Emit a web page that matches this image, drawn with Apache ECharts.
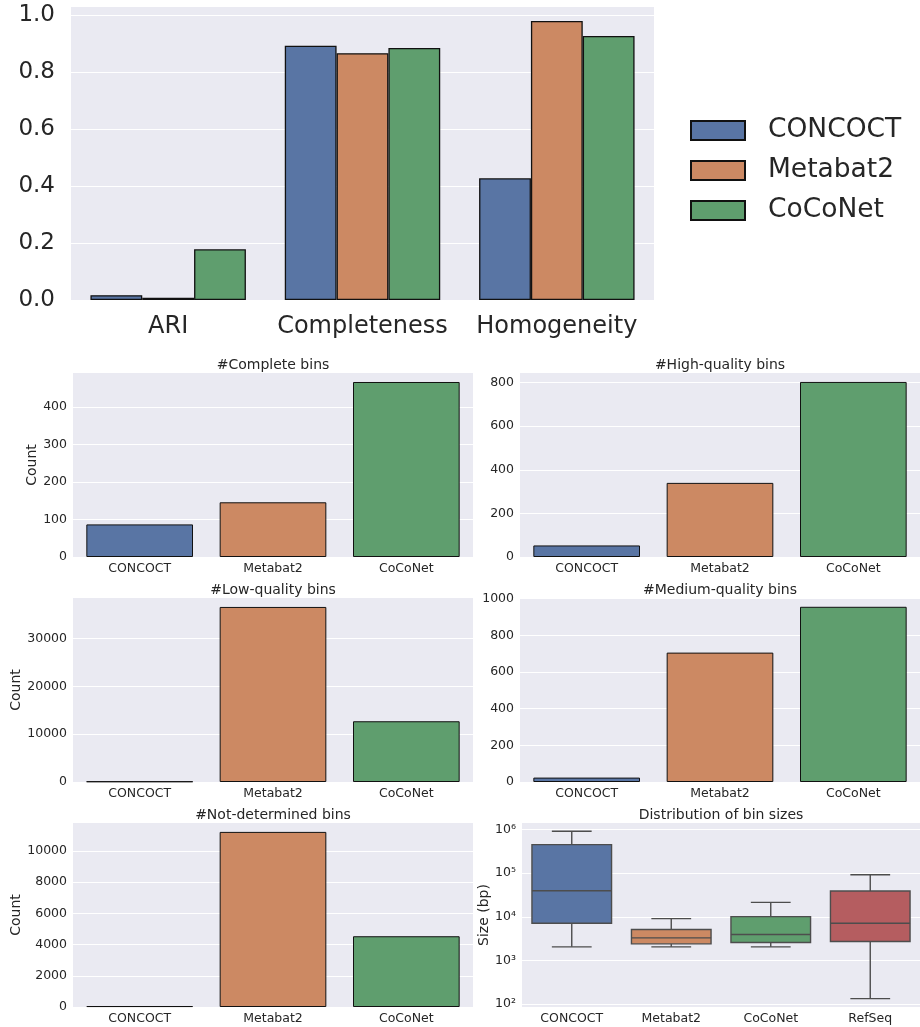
<!DOCTYPE html>
<html>
<head>
<meta charset="utf-8">
<script src="https://cdn.jsdelivr.net/npm/echarts@6/dist/echarts.min.js"></script>
<style>html,body{margin:0;padding:0;background:#fff;}#c{width:920px;height:1027px;}</style>
</head>
<body>
<div id="c"></div>
<script>
// ---- data ----
const metrics = ['ARI', 'Completeness', 'Homogeneity'];
const methods = ['CONCOCT', 'Metabat2', 'CoCoNet'];
const concoctScores = [0.017, 0.892, 0.427];
const metabat2Scores = [0.008, 0.866, 0.979];
const coconetScores = [0.178, 0.884, 0.926];

const completeBins = [87, 146, 467];
const highQualityBins = [53, 340, 803];
const lowQualityBins = [120, 36600, 12700];
const mediumQualityBins = [24, 706, 956];
const notDeterminedBins = [60, 11210, 4530];

const sizeCategories = ['CONCOCT', 'Metabat2', 'CoCoNet', 'RefSeq'];
const sizeWhiskerLow = [2040, 2040, 2040, 132];
const sizeQ1 = [7100, 2390, 2570, 2700];
const sizeMedian = [39600, 3280, 3910, 7100];
const sizeQ3 = [454000, 5090, 10100, 38900];
const sizeWhiskerHigh = [916000, 9080, 21400, 92000];

// ---- style ----
const palette = ['#5975a4', '#cc8963', '#5f9e6e', '#b55d60'];
const txt = '#262626';
const bg = '#eaeaf2';
const FONT = 'DejaVu Sans';

const chart = echarts.init(document.getElementById('c'), null, {renderer: 'canvas'});

const grids = [
  {left: 71, top: 7, width: 583, height: 293},
  {left: 73, top: 373, width: 400, height: 184},
  {left: 520, top: 373, width: 400, height: 184},
  {left: 73, top: 598, width: 400, height: 184},
  {left: 520, top: 598, width: 400, height: 184},
  {left: 73, top: 823, width: 400, height: 184},
  {left: 522, top: 823, width: 398, height: 184}
].map(g => Object.assign({show: true, backgroundColor: bg, borderWidth: 0}, g));

function catAxis(gi, cats, fs, margin) {
  return {
    type: 'category', gridIndex: gi, data: cats,
    axisLine: {show: false}, axisTick: {show: false},
    axisLabel: {fontSize: fs, color: txt, fontFamily: FONT, margin: margin, interval: 0},
    splitLine: {show: false}
  };
}
function valAxis(gi, max, interval, fs, margin, name, nameGap, fmt) {
  return {
    type: 'value', gridIndex: gi, min: 0, max: max, interval: interval,
    axisLine: {show: false}, axisTick: {show: false},
    axisLabel: {
      fontSize: fs, color: txt, fontFamily: FONT, margin: margin, showMaxLabel: false,
      formatter: v => {
        const k = v / interval;
        if (Math.abs(k - Math.round(k)) > 1e-6) return '';
        return fmt ? fmt(v) : String(Math.round(v));
      }
    },
    splitLine: {show: true, showMaxLine: false, lineStyle: {color: '#ffffff', width: 1.2}},
    name: name || '', nameLocation: 'middle', nameGap: nameGap || 0, nameRotate: 90,
    nameTextStyle: {fontSize: 14, color: txt, fontFamily: FONT}
  };
}

const xAxes = [
  catAxis(0, metrics, 24, 15),
  catAxis(1, methods, 12.5, 5),
  catAxis(2, methods, 12.5, 5),
  catAxis(3, methods, 12.5, 5),
  catAxis(4, methods, 12.5, 5),
  catAxis(5, methods, 12.5, 5),
  catAxis(6, sizeCategories, 12.5, 5)
];

const supDigits = {'0':'⁰','1':'¹','2':'²','3':'³','4':'⁴','5':'⁵','6':'⁶','7':'⁷','8':'⁸','9':'⁹'};

const yAxes = [
  valAxis(0, 1.028, 0.2, 23, 16, '', 0, v => v.toFixed(1)),
  valAxis(1, 491, 100, 12.5, 6, 'Count', 33),
  valAxis(2, 844, 200, 12.5, 6),
  valAxis(3, 38470, 10000, 12.5, 6, 'Count', 49),
  valAxis(4, 1004, 200, 12.5, 6),
  valAxis(5, 11780, 2000, 12.5, 6, 'Count', 49),
  {
    type: 'log', logBase: 10, gridIndex: 6, min: 85, max: 1420000,
    axisLine: {show: false}, axisTick: {show: false},
    minorTick: {show: false}, minorSplitLine: {show: false},
    axisLabel: {
      fontSize: 12.5, color: txt, fontFamily: FONT, margin: 6,
      showMinLabel: false, showMaxLabel: false,
      formatter: v => {
        const e = Math.log10(v);
        if (Math.abs(e - Math.round(e)) > 1e-6) return '';
        return '10' + String(Math.round(e)).split('').map(d => supDigits[d]).join('');
      }
    },
    splitLine: {show: true, showMinLine: false, showMaxLine: false, lineStyle: {color: '#ffffff', width: 1.2}},
    name: 'Size (bp)', nameLocation: 'middle', nameGap: 30, nameRotate: 90,
    nameTextStyle: {fontSize: 14, color: txt, fontFamily: FONT}
  }
];

const topSeries = [concoctScores, metabat2Scores, coconetScores].map((vals, i) => ({
  type: 'bar', name: methods[i], xAxisIndex: 0, yAxisIndex: 0, data: vals,
  barGap: '0%', barCategoryGap: '20%',
  itemStyle: {color: palette[i], borderColor: '#111111', borderWidth: 1.3},
  emphasis: {disabled: true}
}));

function countSeries(gi, vals) {
  return {
    type: 'bar', xAxisIndex: gi, yAxisIndex: gi, barCategoryGap: '20%',
    data: vals.map((v, i) => ({value: v, itemStyle: {color: palette[i]}})),
    itemStyle: {borderColor: '#111111', borderWidth: 1},
    emphasis: {disabled: true}
  };
}

const boxData = sizeCategories.map((c, i) => [i, sizeWhiskerLow[i], sizeQ1[i], sizeMedian[i], sizeQ3[i], sizeWhiskerHigh[i]]);
const boxLine = '#4d4d4d';
const boxSeries = {
  type: 'custom', xAxisIndex: 6, yAxisIndex: 6,
  encode: {x: 0, y: [1, 2, 3, 4, 5]},
  data: boxData,
  renderItem: function (params, api) {
    const i = api.value(0);
    const lo = api.coord([i, api.value(1)]);
    const q1 = api.coord([i, api.value(2)]);
    const med = api.coord([i, api.value(3)]);
    const q3 = api.coord([i, api.value(4)]);
    const hi = api.coord([i, api.value(5)]);
    const band = api.coord([1, api.value(3)])[0] - api.coord([0, api.value(3)])[0];
    const bw = band * 0.8;
    const cw = bw / 2;
    const x = lo[0];
    const s = {stroke: boxLine, lineWidth: 1.4};
    return {
      type: 'group',
      children: [
        {type: 'line', shape: {x1: x, y1: q3[1], x2: x, y2: hi[1]}, style: s},
        {type: 'line', shape: {x1: x, y1: lo[1], x2: x, y2: q1[1]}, style: s},
        {type: 'line', shape: {x1: x - cw / 2, y1: hi[1], x2: x + cw / 2, y2: hi[1]}, style: s},
        {type: 'line', shape: {x1: x - cw / 2, y1: lo[1], x2: x + cw / 2, y2: lo[1]}, style: s},
        {type: 'rect', shape: {x: x - bw / 2, y: q3[1], width: bw, height: q1[1] - q3[1]},
          style: {fill: palette[i], stroke: boxLine, lineWidth: 1.4}},
        {type: 'line', shape: {x1: x - bw / 2, y1: med[1], x2: x + bw / 2, y2: med[1]}, style: s}
      ]
    };
  }
};

function mkTitle(text, cx, top) {
  return {text: text, left: cx, top: top, textAlign: 'center', padding: 0,
    textStyle: {fontSize: 14, fontWeight: 'normal', color: txt, fontFamily: FONT}};
}

const option = {
  animation: false,
  backgroundColor: '#ffffff',
  textStyle: {fontFamily: FONT},
  title: [
    mkTitle('#Complete bins', 273, 358),
    mkTitle('#High-quality bins', 720, 358),
    mkTitle('#Low-quality bins', 273, 583),
    mkTitle('#Medium-quality bins', 720, 583),
    mkTitle('#Not-determined bins', 273, 808),
    mkTitle('Distribution of bin sizes', 721, 808)
  ],
  legend: {
    data: methods, orient: 'vertical', left: 690, top: 117, padding: 0,
    itemWidth: 54, itemHeight: 19, itemGap: 13, icon: 'rect',
    textStyle: {fontSize: 26.5, color: txt, fontFamily: FONT, padding: [0, 0, 0, 18]},
    selectedMode: false
  },
  grid: grids,
  xAxis: xAxes,
  yAxis: yAxes,
  series: topSeries.concat([
    countSeries(1, completeBins),
    countSeries(2, highQualityBins),
    countSeries(3, lowQualityBins),
    countSeries(4, mediumQualityBins),
    countSeries(5, notDeterminedBins),
    boxSeries
  ])
};
chart.setOption(option);
</script>
</body>
</html>
